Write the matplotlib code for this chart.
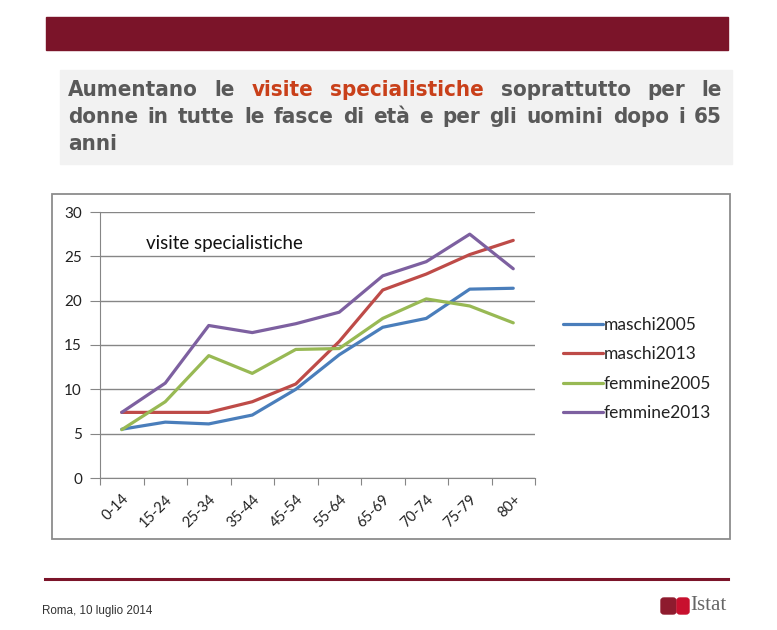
import matplotlib
matplotlib.use("Agg")
import matplotlib.pyplot as plt
from matplotlib.patches import Rectangle, FancyBboxPatch

## Data ##
ages = ["0-14", "15-24", "25-34", "35-44", "45-54", "55-64", "65-69", "70-74", "75-79", "80+"]
maschi2005 = [5.5, 6.3, 6.1, 7.1, 10.0, 13.9, 17.0, 18.0, 21.3, 21.4]
maschi2013 = [7.4, 7.4, 7.4, 8.6, 10.6, 15.4, 21.2, 23.0, 25.2, 26.8]
femmine2005 = [5.45, 8.6, 13.8, 11.8, 14.5, 14.6, 18.0, 20.2, 19.4, 17.5]
femmine2013 = [7.4, 10.7, 17.2, 16.4, 17.4, 18.7, 22.8, 24.4, 27.5, 23.6]
series_names = ["maschi2005", "maschi2013", "femmine2005", "femmine2013"]
series_colors = ["#4A7EBB", "#BE4B48", "#98B954", "#7D60A0"]
yticks = [0, 5, 10, 15, 20, 25, 30]

title_lines = [
    ["Aumentano", "le", "visite", "specialistiche", "soprattutto", "per", "le"],
    ["donne", "in", "tutte", "le", "fasce", "di", "età", "e", "per", "gli", "uomini", "dopo", "i", "65"],
    ["anni"],
]
highlight = {(0, 2), (0, 3)}

W, H = 777, 630
fig = plt.figure(figsize=(W / 100, H / 100), dpi=100)
fig.patch.set_facecolor("white")


def fx(x):
    return x / W


def fy(y):
    return 1 - y / H


# header band and title box
fig.patches.append(Rectangle((fx(46), fy(50)), fx(728) - fx(46), fy(17) - fy(50),
                             transform=fig.transFigure, color="#7B1429", zorder=0))
fig.patches.append(Rectangle((fx(60), fy(164)), fx(732) - fx(60), fy(70) - fy(164),
                             transform=fig.transFigure, color="#F2F2F2", zorder=0))

# justified title
renderer = fig.canvas.get_renderer()
left, right = 68, 722
line_y = [90, 117, 144]
for li, words in enumerate(title_lines):
    texts = []
    for wi, w in enumerate(words):
        col = "#C9401A" if (li, wi) in highlight else "#595959"
        t = fig.text(0, fy(line_y[li]), w, fontsize=16, fontweight="bold",
                     family="DejaVu Sans", fontstretch="condensed",
                     color=col, va="center", ha="left")
        texts.append(t)
    widths = [t.get_window_extent(renderer).width for t in texts]
    if li < 2:
        gap = (right - left - sum(widths)) / (len(words) - 1)
    else:
        gap = 6
    x = left
    for t, wd in zip(texts, widths):
        t.set_x(fx(x))
        x += wd + gap

# chart border
fig.patches.append(Rectangle((fx(52), fy(539)), fx(730) - fx(52), fy(194) - fy(539),
                             transform=fig.transFigure, fill=False,
                             edgecolor="#8C8C8C", linewidth=1.3, zorder=1))

ax = fig.add_axes([fx(100), fy(478), fx(535) - fx(100), fy(212) - fy(478)])
xs = list(range(len(ages)))
for vals, name, c in zip([maschi2005, maschi2013, femmine2005, femmine2013], series_names, series_colors):
    ax.plot(xs, vals, color=c, lw=2.3, label=name, solid_capstyle="round", solid_joinstyle="round")

ax.set_xlim(-0.5, len(ages) - 0.5)
ax.set_ylim(0, 30)
ax.set_yticks(yticks)
ax.set_yticklabels([str(v) for v in yticks], fontsize=11, family="Lato", color="#222222")
ax.set_xticks([i - 0.5 for i in range(len(ages) + 1)])
ax.set_xticklabels([])
ax.set_xticks(xs, minor=True)
ax.set_xticklabels(ages, minor=True, rotation=45, ha="right", va="top",
                   rotation_mode="anchor", fontsize=10.5, family="Lato", color="#222222")
ax.tick_params(axis="x", which="minor", length=0, pad=10)
ax.tick_params(axis="x", which="major", length=5, color="#868686")
ax.tick_params(axis="y", length=7, color="#868686", pad=6)
ax.grid(axis="y", color="#868686", lw=1)
ax.set_axisbelow(True)
for s in ["top", "right"]:
    ax.spines[s].set_visible(False)
for s in ["left", "bottom"]:
    ax.spines[s].set_color("#868686")
ax.text(fx(146), fy(244), "visite specialistiche", transform=fig.transFigure,
        fontsize=13.5, family="Lato", color="#111111", va="center", ha="left")

leg = ax.legend(loc="center left", bbox_to_anchor=(fx(563), fy(369)),
                bbox_transform=fig.transFigure, frameon=False, borderpad=0,
                borderaxespad=0, prop={"family": "Lato", "size": 12.5},
                handlelength=2.3, handletextpad=0.05, labelspacing=0.78)
for t in leg.get_texts():
    t.set_color("#222222")

# footer
fig.add_artist(plt.Line2D([fx(45), fx(728)], [fy(579), fy(579)], transform=fig.transFigure,
                          color="#7B1429", lw=2.2))
fig.text(fx(42), fy(611), "Roma, 10 luglio 2014", fontsize=8.4, family="Liberation Sans",
         color="#333333", va="center", ha="left")
fig.patches.append(FancyBboxPatch((fx(661), fy(614)), fx(676) - fx(661), fy(598) - fy(614),
                                  boxstyle="round,pad=0,rounding_size=0.004",
                                  transform=fig.transFigure, color="#8E1B2E"))
fig.patches.append(FancyBboxPatch((fx(677), fy(614)), fx(689) - fx(677), fy(598) - fy(614),
                                  boxstyle="round,pad=0,rounding_size=0.004",
                                  transform=fig.transFigure, color="#C8102E"))
fig.text(fx(690), fy(606), "Istat", fontsize=15, family="Liberation Serif",
         color="#666666", va="center", ha="left")

fig.savefig("out.png", dpi=100)
